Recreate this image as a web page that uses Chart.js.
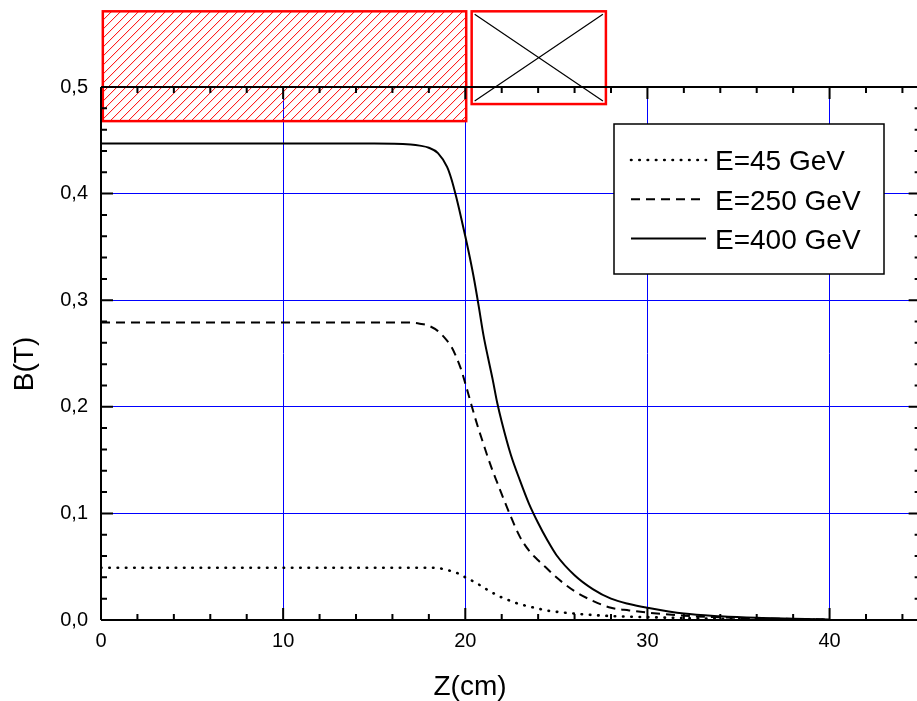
<!DOCTYPE html>
<html>
<head>
<meta charset="utf-8">
<script src="https://cdn.jsdelivr.net/npm/chart.js@4.4.1/dist/chart.umd.min.js"></script>
<style>
html, body { margin: 0; padding: 0; background: #fff; overflow: hidden; }
#wrap { position: relative; width: 917px; height: 701px; }
</style>
</head>
<body>
<div id="wrap"><canvas id="fieldChart"></canvas></div>
<script>
/* ── 데이터 ── */
const zPos = [0, 5, 10, 15, 17, 17.5, 18, 18.5, 19, 19.25, 19.5, 19.75, 20, 20.25, 20.5, 20.75,
	21, 21.25, 21.5, 21.75, 22, 22.5, 23, 23.5, 24, 24.5, 25, 26, 27, 28, 29, 30, 32, 34, 36, 38, 40];

const b45  = [0.049, 0.049, 0.049, 0.049, 0.049, 0.049, 0.049, 0.0487, 0.047, 0.0458, 0.0443, 0.0428,
	0.040, 0.0379, 0.0356, 0.0332, 0.0304, 0.028, 0.0255, 0.0233, 0.0212, 0.0178, 0.0148, 0.0127,
	0.0107, 0.0088, 0.0077, 0.006, 0.0047, 0.0037, 0.0031, 0.0027, 0.0018, 0.0011, 0.0006, 0.0003, 0.0001];

const b250 = [0.279, 0.279, 0.279, 0.279, 0.279, 0.278, 0.276, 0.271, 0.262, 0.256, 0.247, 0.236,
	0.222, 0.207, 0.192, 0.178, 0.165, 0.152, 0.140, 0.129, 0.118, 0.097, 0.078, 0.065,
	0.056, 0.048, 0.040, 0.027, 0.018, 0.0115, 0.009, 0.007, 0.004, 0.0025, 0.0015, 0.001, 0.0005];

const b400 = [0.447, 0.447, 0.447, 0.447, 0.446, 0.445, 0.443, 0.438, 0.425, 0.413, 0.397, 0.379,
	0.360, 0.340, 0.318, 0.293, 0.267, 0.246, 0.226, 0.204, 0.186, 0.155, 0.131, 0.109,
	0.091, 0.075, 0.061, 0.042, 0.029, 0.020, 0.015, 0.0115, 0.006, 0.0035, 0.002, 0.0012, 0.0005];

const seriesLabels = ['E=45 GeV', 'E=250 GeV', 'E=400 GeV'];
const yTickLabels  = ['0,0', '0,1', '0,2', '0,3', '0,4', '0,5'];
const xTickLabels  = ['0', '10', '20', '30', '40'];
const xTitle = 'Z(cm)';
const yTitle = 'B(T)';

// 자석 블록 (데이터 단위: z 범위, B 범위)
const hatchBoxZ = [0.1, 20.05];
const hatchBoxB = [0.468, 0.571];
const crossBoxZ = [20.35, 27.72];
const crossBoxB = [0.484, 0.571];

const FONT = "'Liberation Sans', Arial, sans-serif";
const Z_FRAME = 45;   // 오른쪽 축 위치 (화면 밖으로 잘림)

function toPoints(ys) {
	return zPos.map(function(z, i) { return { x: z, y: ys[i] }; });
}

/* ── 블록 그리기 ── */
const blockPlugin = {
	id: 'blocks',
	afterDatasetsDraw(chart) {
		const { ctx, scales: { x, y } } = chart;
		ctx.save();
		// 빗금 박스
		let l = x.getPixelForValue(hatchBoxZ[0]), r = x.getPixelForValue(hatchBoxZ[1]);
		let t = y.getPixelForValue(hatchBoxB[1]), b = y.getPixelForValue(hatchBoxB[0]);
		ctx.save();
		ctx.beginPath();
		ctx.rect(l, t, r - l, b - t);
		ctx.clip();
		ctx.strokeStyle = '#ff0000';
		ctx.lineWidth = 1;
		const h = b - t;
		for (let sx = l - h; sx < r + 10; sx += 9) {
			ctx.beginPath();
			ctx.moveTo(sx, b);
			ctx.lineTo(sx + h, t);
			ctx.stroke();
		}
		ctx.restore();
		ctx.strokeStyle = '#ff0000';
		ctx.lineWidth = 2.5;
		ctx.strokeRect(l, t, r - l, b - t);

		// X 박스
		l = x.getPixelForValue(crossBoxZ[0]); r = x.getPixelForValue(crossBoxZ[1]);
		t = y.getPixelForValue(crossBoxB[1]); b = y.getPixelForValue(crossBoxB[0]);
		ctx.strokeStyle = '#000';
		ctx.lineWidth = 1.2;
		ctx.beginPath();
		ctx.moveTo(l + 3, t + 3); ctx.lineTo(r - 3, b - 3);
		ctx.moveTo(l + 3, b - 3); ctx.lineTo(r - 3, t + 3);
		ctx.stroke();
		ctx.strokeStyle = '#ff0000';
		ctx.lineWidth = 2.5;
		ctx.strokeRect(l, t, r - l, b - t);
		ctx.restore();
	}
};

/* ── 테두리, 눈금, 축 제목, 범례 ── */
const framePlugin = {
	id: 'frame',
	afterDraw(chart) {
		const { ctx, chartArea: a, scales: { x, y } } = chart;
		const rightPx = x.getPixelForValue(Z_FRAME);
		ctx.save();
		ctx.strokeStyle = '#000';
		ctx.lineWidth = 2;
		ctx.beginPath();
		for (let i = 0; i <= 22; i++) {
			const px = x.getPixelForValue(i * 2);
			const len = i % 5 === 0 ? 12 : 6;
			ctx.moveTo(px, a.bottom); ctx.lineTo(px, a.bottom - len);
			ctx.moveTo(px, a.top);    ctx.lineTo(px, a.top + len);
		}
		for (let i = 0; i <= 25; i++) {
			const py = y.getPixelForValue(i * 0.02);
			const len = i % 5 === 0 ? 12 : 6;
			ctx.moveTo(a.left, py);  ctx.lineTo(a.left + len, py);
			ctx.moveTo(rightPx, py); ctx.lineTo(rightPx - len, py);
		}
		// 위 / 아래 / 왼쪽 축선
		ctx.moveTo(a.left, a.top);    ctx.lineTo(rightPx, a.top);
		ctx.moveTo(a.left, a.bottom); ctx.lineTo(rightPx, a.bottom);
		ctx.moveTo(a.left, a.top);    ctx.lineTo(a.left, a.bottom);
		ctx.moveTo(rightPx, a.top);   ctx.lineTo(rightPx, a.bottom);
		ctx.stroke();

		// 축 제목
		ctx.fillStyle = '#000';
		ctx.font = '28px ' + FONT;
		ctx.textAlign = 'center';
		ctx.textBaseline = 'alphabetic';
		ctx.fillText(xTitle, 470, 695);
		ctx.save();
		ctx.translate(33, 364);
		ctx.rotate(-Math.PI / 2);
		ctx.fillText(yTitle, 0, 0);
		ctx.restore();

		// 범례
		const lx = 614, ly = 124, lw = 270, lh = 150;
		ctx.fillStyle = '#fff';
		ctx.fillRect(lx, ly, lw, lh);
		ctx.lineWidth = 1.5;
		ctx.strokeRect(lx, ly, lw, lh);
		ctx.font = '28px ' + FONT;
		ctx.textAlign = 'left';
		chart.data.datasets.forEach(function(ds, i) {
			const cy = 160 + i * 39.2;
			ctx.save();
			ctx.strokeStyle = '#000';
			ctx.lineWidth = ds.borderWidth;
			ctx.lineCap = ds.borderCapStyle || 'butt';
			ctx.setLineDash(ds.borderDash || []);
			ctx.beginPath();
			ctx.moveTo(631, cy);
			ctx.lineTo(706, cy);
			ctx.stroke();
			ctx.restore();
			ctx.fillStyle = '#000';
			ctx.fillText(ds.label, 715, cy + 10.3);
		});
		ctx.restore();
	}
};

const lineStyle = { borderColor: '#000', pointRadius: 0, fill: false, cubicInterpolationMode: 'monotone' };

new Chart(document.getElementById('fieldChart'), {
	type: 'line',
	data: {
		datasets: [
			Object.assign({ label: seriesLabels[0], data: toPoints(b45),  borderWidth: 2.6, borderDash: [0.5, 7.8], borderCapStyle: 'round' }, lineStyle),
			Object.assign({ label: seriesLabels[1], data: toPoints(b250), borderWidth: 2,   borderDash: [9, 6] },   lineStyle),
			Object.assign({ label: seriesLabels[2], data: toPoints(b400), borderWidth: 2,   borderDash: [] },       lineStyle)
		]
	},
	options: {
		responsive: true,
		maintainAspectRatio: false,
		animation: false,
		layout: { padding: { top: 87, right: 0, bottom: 0, left: 0 } },
		plugins: { legend: { display: false }, tooltip: { enabled: false } },
		scales: {
			x: {
				type: 'linear', min: 0, max: 44.8,
				afterFit: function(s) { s.height = 81; },
				grid: { color: '#0000ff', lineWidth: 1, drawTicks: false },
				border: { display: false },
				ticks: {
					stepSize: 10, includeBounds: false, padding: 9, color: '#000',
					font: { family: FONT, size: 20 },
					callback: function(v) { return xTickLabels[Math.round(v / 10)]; }
				}
			},
			y: {
				min: 0, max: 0.5,
				afterFit: function(s) { s.width = 101; },
				grid: { color: '#0000ff', lineWidth: 1, drawTicks: false },
				border: { display: false },
				ticks: {
					stepSize: 0.1, padding: 13, color: '#000',
					font: { family: FONT, size: 20 },
					callback: function(v) { return yTickLabels[Math.round(v * 10)]; }
				}
			}
		}
	},
	plugins: [blockPlugin, framePlugin]
});
</script>
</body>
</html>
